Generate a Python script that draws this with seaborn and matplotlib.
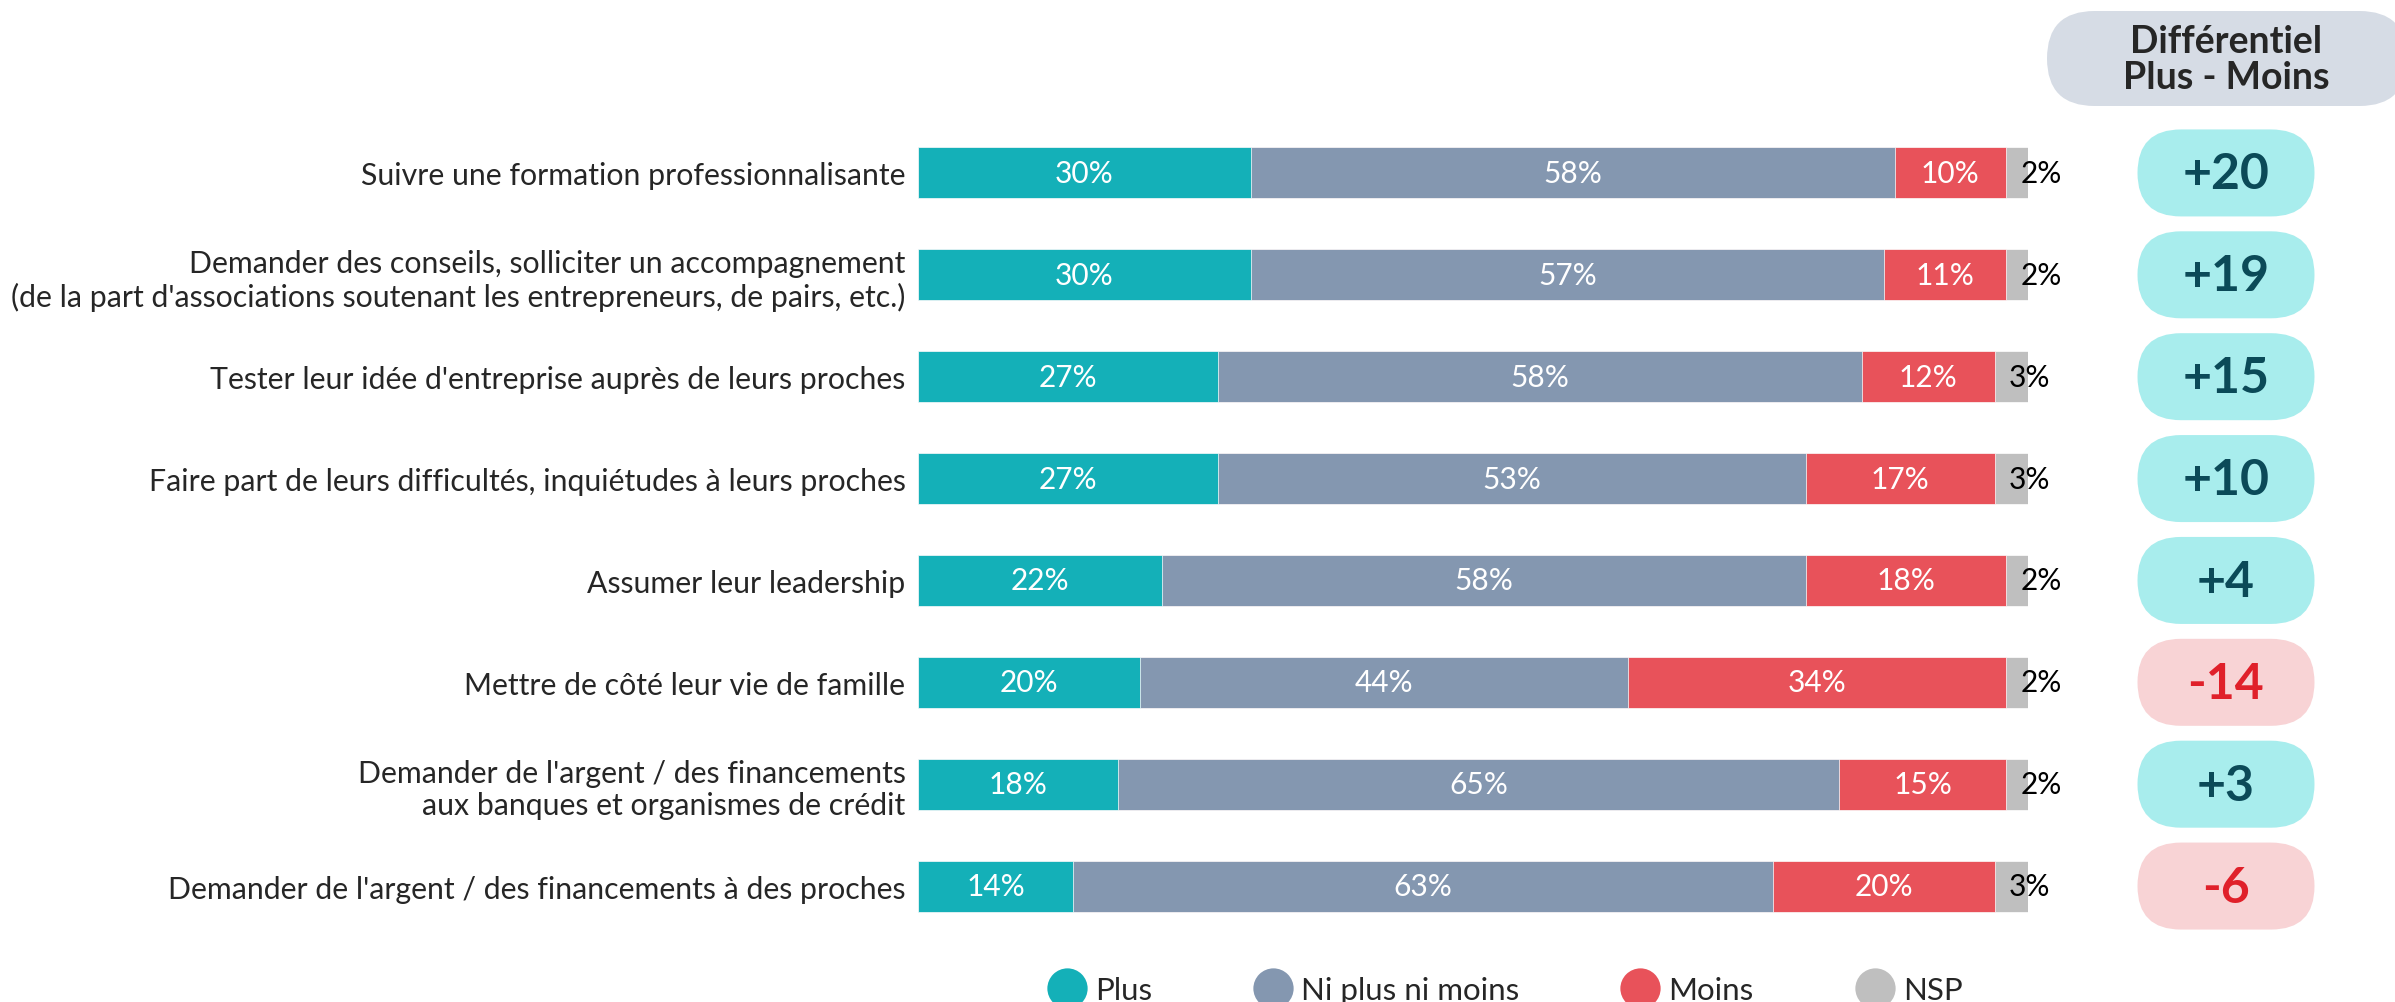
import matplotlib
matplotlib.use("Agg")
import matplotlib.pyplot as plt
from matplotlib.patches import FancyBboxPatch
from matplotlib.lines import Line2D
import pandas as pd
import seaborn as sns

categories = [
    "Suivre une formation professionnalisante",
    "Demander des conseils, solliciter un accompagnement\n(de la part d'associations soutenant les entrepreneurs, de pairs, etc.)",
    "Tester leur idée d'entreprise auprès de leurs proches",
    "Faire part de leurs difficultés, inquiétudes à leurs proches",
    "Assumer leur leadership",
    "Mettre de côté leur vie de famille",
    "Demander de l'argent / des financements\naux banques et organismes de crédit",
    "Demander de l'argent / des financements à des proches",
]
plus = [30, 30, 27, 27, 22, 20, 18, 14]
ni = [58, 57, 58, 53, 58, 44, 65, 63]
moins = [10, 11, 12, 17, 18, 34, 15, 20]
nsp = [2, 2, 3, 3, 2, 2, 2, 3]
diff = [20, 19, 15, 10, 4, -14, 3, -6]

series_names = ["Plus", "Ni plus ni moins", "Moins", "NSP"]
colors = ["#14B0B8", "#8497B0", "#E8525A", "#BFBFBF"]

sns.set_style("white")
plt.rcParams["font.family"] = ["Lato", "DejaVu Sans"]

W, H = 2395, 1003
fig = plt.figure(figsize=(W / 100, H / 100), dpi=100)
ax = fig.add_axes([918 / W, 1 - 938 / H, 1110 / W, 815 / H])

df = pd.DataFrame({"cat": categories, "Plus": plus, "Ni": ni, "Moins": moins, "NSP": nsp})
df["c1"] = df["Plus"]
df["c2"] = df["c1"] + df["Ni"]
df["c3"] = df["c2"] + df["Moins"]
df["c4"] = df["c3"] + df["NSP"]

# stacked bars: draw cumulative totals from the largest down
for col, color in zip(["c4", "c3", "c2", "c1"], colors[::-1]):
    sns.barplot(data=df, x=col, y="cat", color=color, orient="h", width=0.5,
                saturation=1, linewidth=0.5, edgecolor="white", ax=ax)

ax.set_xlim(0, 100)
ax.set_ylim(7.5, -0.5)
ax.set_xlabel("")
ax.set_ylabel("")
ax.set_xticks([])
ax.tick_params(axis="y", length=0, pad=9, labelsize=21.8)
sns.despine(ax=ax, left=True, bottom=True)

for i in range(len(categories)):
    starts = [0, df["c1"][i], df["c2"][i]]
    vals = [plus[i], ni[i], moins[i]]
    for s, v in zip(starts, vals):
        ax.text(s + v / 2, i, f"{v}%", ha="center", va="center", color="white", fontsize=21.5)
    ax.text(df["c3"][i] + 1.3, i, f"{nsp[i]}%", ha="left", va="center", color="black", fontsize=21.5)

# overlay in pixel coordinates for the pills
ov = fig.add_axes([0, 0, 1, 1], facecolor="none")
ov.set_xlim(0, W)
ov.set_ylim(H, 0)
ov.axis("off")

pill_x = 2226
pw, ph = 177, 87
for i, d in enumerate(diff):
    _, yd = ax.transData.transform((0, i))
    yc = H - yd
    if d >= 0:
        fc, tc, lab = "#A8EDED", "#0B4A58", f"+{d}"
    else:
        fc, tc, lab = "#F8D3D5", "#E0202A", f"{d}"
    ov.add_patch(FancyBboxPatch((pill_x - pw / 2, yc - ph / 2), pw, ph,
                                boxstyle=f"round,pad=0,rounding_size={ph / 2}",
                                fc=fc, ec="none"))
    ov.text(pill_x, yc + 1, lab, ha="center", va="center", color=tc,
            fontsize=36, fontweight="bold")

# header pill
hh = 95
ov.add_patch(FancyBboxPatch((2047, 12), 360, hh,
                            boxstyle=f"round,pad=0,rounding_size={hh / 2}",
                            fc="#D6DCE5", ec="none"))
ov.text(pill_x, 60, "Différentiel\nPlus - Moins", ha="center", va="center",
        fontsize=27, fontweight="bold", linespacing=1.1)

handles = [Line2D([], [], marker="o", linestyle="none", markersize=29,
                  markerfacecolor=c, markeredgecolor="none") for c in colors]
fig.legend(handles, series_names, loc="center", ncol=4, frameon=False,
           bbox_to_anchor=(0.6285, 0.012), fontsize=22.5, columnspacing=3.27,
           handletextpad=0.3, handlelength=1.2)

fig.savefig("out.png", dpi=100)
